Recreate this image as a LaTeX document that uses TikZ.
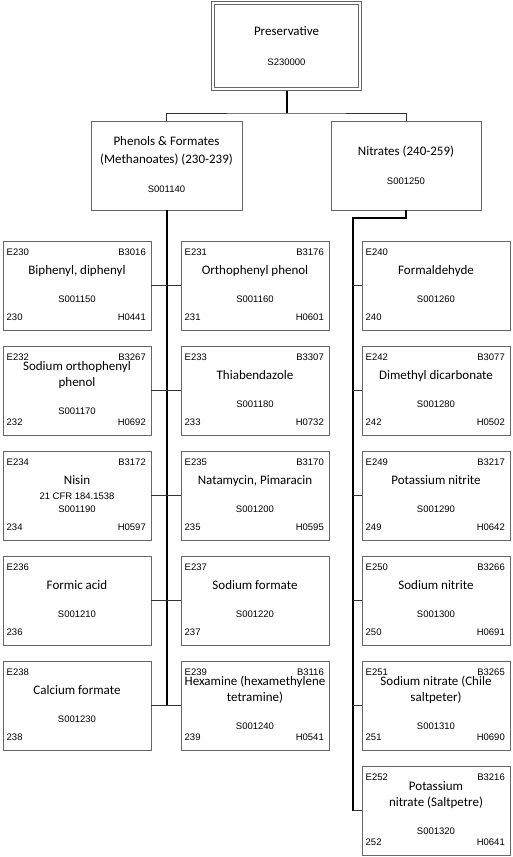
\documentclass[tikz,border=0pt]{standalone}
\usepackage{fontspec}
\setmainfont{Carlito}
\newfontfamily\codefont{Liberation Sans}
\usetikzlibrary{calc,positioning}

\tikzset{
  box/.style={draw=black!60, line width=0.8pt, fill=white, rectangle, outer sep=0pt, inner sep=0pt},
  leaf/.style={box, minimum width=148pt, minimum height=89.5pt, anchor=north west},
  title/.style={font=\fontsize{13}{16}\selectfont, align=center, inner sep=0pt,
    execute at begin node=\strut, execute at end node=\strut},
  code/.style={font=\codefont\fontsize{9.5}{11.4}\selectfont, inner sep=0pt,
    execute at begin node=\strut},
  trunk/.style={line width=2pt, black},
  link/.style={line width=1pt, black!80}
}

% #1 name, #2 left, #3 top, #4 number, #5 B code, #6 title, #7 S code, #8 H code
\newcommand{\Additive}[8]{%
  \node[leaf] (#1) at (#2,#3) {};
  \node[code, anchor=west] (#1e) at ($(#1.north west)+(3.5,12)$) {E#4};
  \node[code, anchor=east] (#1b) at ($(#1.north east)+(-5,12)$) {#5};
  \node[title] (#1t) at ($(#1.north)+(0,30)$) {#6};
  \node[code, below=15pt of #1t] (#1s) {#7};
  \node[code, anchor=west] (#1n) at ($(#1.north west)+(3.5,77)$) {#4};
  \node[code, anchor=east] (#1h) at ($(#1.north east)+(-5,77)$) {#8};
}

\begin{document}
\begin{tikzpicture}[x=1pt,y=-1pt]
            \useasboundingbox (0,0) rectangle (512,857);

            \node[box, double, double distance=2pt, outer sep=1.8pt, minimum width=147.4pt, minimum height=86pt] (root) at (286.5,45.7) {};
            \node[title] (roott) at (286.5,32) {Preservative};
            \node[code] (roots) at (286.5,63) {S230000};

            \node[box, minimum width=151pt, minimum height=89pt, anchor=north west] (phenols) at (91,121) {};
            \node[title, font=\fontsize{13}{18}\selectfont] (phenolst) at ($(phenols.north)+(0,32)$) {Phenols \& Formates\\(Methanoates) (230-239)};
            \node[code] (phenolss) at ($(phenols.north)+(0,69)$) {S001140};

            \node[box, minimum width=150pt, minimum height=89pt, anchor=north west] (nitrates) at (331,121) {};
            \node[title] (nitratest) at ($(nitrates.north)+(0,31)$) {Nitrates (240-259)};
            \node[code] (nitratess) at ($(nitrates.north)+(0,61)$) {S001250};

            \Additive{e230}{3}{241}{230}{B3016}{Biphenyl, diphenyl}{S001150}{H0441};
            \Additive{e231}{181}{241}{231}{B3176}{Orthophenyl phenol}{S001160}{H0601};
            \Additive{e240}{362}{241}{240}{}{Formaldehyde}{S001260}{};

            \Additive{e232}{3}{346}{232}{B3267}{Sodium orthophenyl\\phenol}{S001170}{H0692};
            \Additive{e233}{181}{346}{233}{B3307}{Thiabendazole}{S001180}{H0732};
            \Additive{e242}{362}{346}{242}{B3077}{Dimethyl dicarbonate}{S001280}{H0502};

            \Additive{e234}{3}{451}{234}{B3172}{Nisin}{S001190}{H0597};
            \node[code, below=2.5pt of e234t] (e234cfr) {21 CFR 184.1538};
            \Additive{e235}{181}{451}{235}{B3170}{Natamycin, Pimaracin}{S001200}{H0595};
            \Additive{e249}{362}{451}{249}{B3217}{Potassium nitrite}{S001290}{H0642};

            \Additive{e236}{3}{556}{236}{}{Formic acid}{S001210}{};
            \Additive{e237}{181}{556}{237}{}{Sodium formate}{S001220}{};
            \Additive{e250}{362}{556}{250}{B3266}{Sodium nitrite}{S001300}{H0691};

            \Additive{e238}{3}{661}{238}{}{Calcium formate}{S001230}{};
            \Additive{e239}{181}{661}{239}{B3116}{Hexamine (hexamethylene\\tetramine)}{S001240}{H0541};
            \Additive{e251}{362}{661}{251}{B3265}{Sodium nitrate (Chile\\saltpeter)}{S001310}{H0690};

            \Additive{e252}{362}{766}{252}{B3216}{Potassium\\nitrate (Saltpetre)}{S001320}{H0641};

            \coordinate (bus) at (286.5,113);
            \draw[trunk] (root.south) -- (bus);
            \draw[link] (phenols.north) |- (bus) -| (nitrates.north);

            \draw[trunk] (phenols.south) -- (phenols.south |- e238.east);
            \foreach \l/\r in {e230/e231,e232/e233,e234/e235,e236/e237,e238/e239}
              \draw[link] (\l.east) -- (\r.west);

            \coordinate (nbus) at (353,218);
            \draw[trunk] (nitrates.south) |- (nbus) -- (nbus |- e252.west);
            \foreach \n in {e240,e242,e249,e250,e251,e252}
              \draw[link] (nbus |- \n.west) -- (\n.west);
\end{tikzpicture}
\end{document}
